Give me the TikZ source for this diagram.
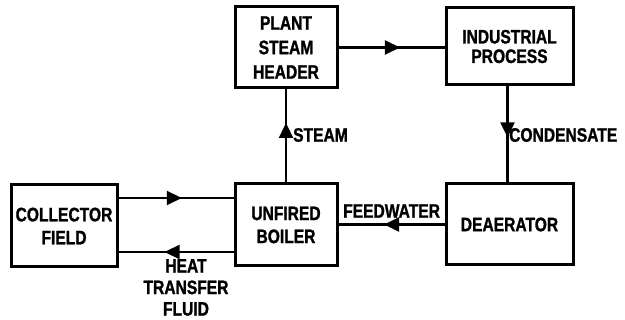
\documentclass[tikz,border=0pt]{standalone}
\usepackage{fontspec}
\setmainfont{Liberation Sans}[FakeStretch=0.8,FakeBold=1.2]
\usetikzlibrary{arrows.meta,decorations.markings}
\tikzset{
  lbl/.style={font=\fontsize{19.5}{23}\selectfont\bfseries, inner sep=0pt},
  blk/.style={draw, line width=3pt, inner sep=0pt, align=center, lbl},
  flow/.style={line width=2.2pt, postaction={decorate},
    decoration={markings, mark=at position #1 with {\arrow{Triangle[length=15pt,width=14pt]}}}}
}
\begin{document}
\begin{tikzpicture}[x=1pt,y=-1pt]
\useasboundingbox (0,0) rectangle (625,320);
\node[blk, minimum width=102pt, minimum height=81pt, font=\fontsize{19.5}{24.5}\selectfont\bfseries] (psh) at (286,47.5) {PLANT\\STEAM\\HEADER};
\node[blk, minimum width=127pt, minimum height=77pt, font=\fontsize{19.5}{19.5}\selectfont\bfseries] (ip) at (509.5,46.5) {INDUSTRIAL\\PROCESS};
\node[blk, minimum width=106pt, minimum height=82pt] (cf) at (64,226) {COLLECTOR\\FIELD};
\node[blk, minimum width=102pt, minimum height=82pt] (ub) at (286,225) {UNFIRED\\BOILER};
\node[blk, minimum width=127pt, minimum height=81pt] (dea) at (509.5,224.5) {DEAERATOR};

\draw[flow=0.58] (psh.east) -- (psh.east -| ip.west);
\draw[flow=0.64] (ub.north) -- (psh.south);
\draw[flow=0.53] ([xshift=-2pt]ip.south) -- ([xshift=-2pt]ip.south |- dea.north);
\draw[flow=0.55] ([yshift=28pt]cf.east) -- ([yshift=28pt]cf.east -| ub.west);
\draw[flow=0.6] ([yshift=-27pt]ub.west) -- ([yshift=-27pt]ub.west -| cf.east);
\draw[flow=0.57] (dea.west) -- (dea.west -| ub.east);

\node[lbl, anchor=west] (steam) at (293,135) {STEAM};
\node[lbl, anchor=west] (cond) at (509,135) {CONDENSATE};
\node[lbl, anchor=west] (fw) at (343,211) {FEEDWATER};
\node[lbl, align=center, anchor=north, font=\fontsize{19.5}{21.5}\selectfont\bfseries] (htf) at (186,259) {HEAT\\TRANSFER\\FLUID};
\end{tikzpicture}
\end{document}
